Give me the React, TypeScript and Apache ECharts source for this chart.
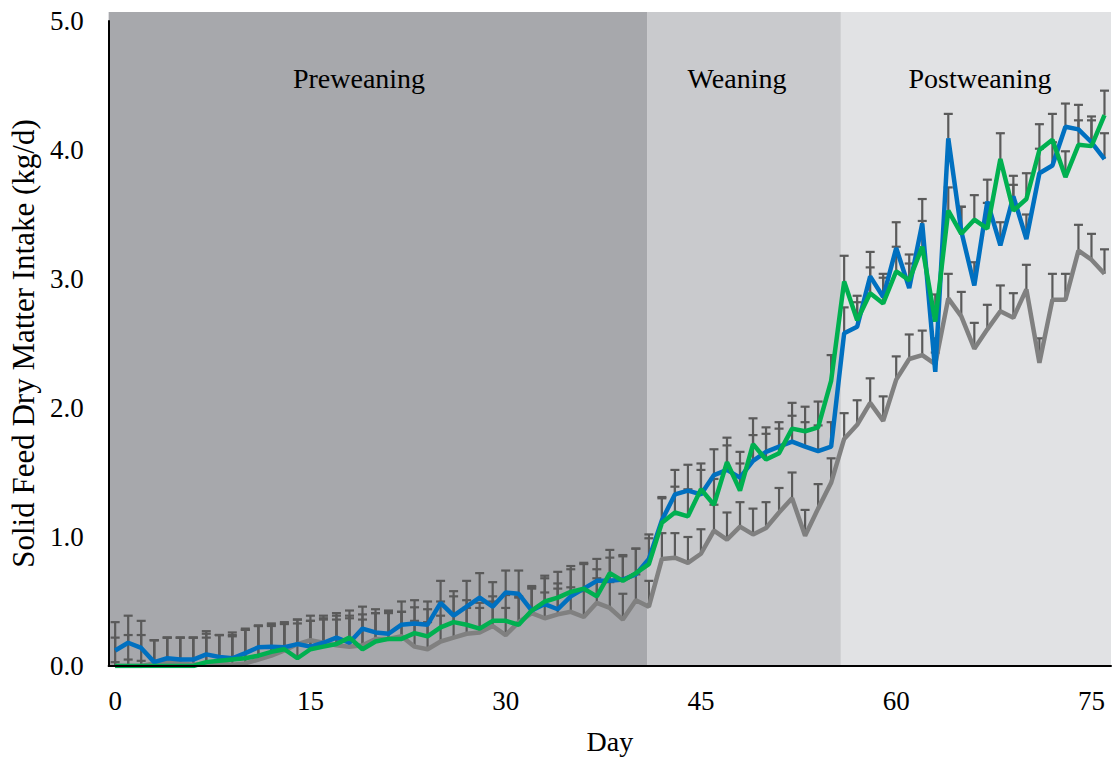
import React, { useEffect, useRef } from "react";
import * as echarts from "echarts";

// Day categories 0..76
const days: string[] = Array.from({ length: 77 }, (_, i) => String(i));
const xTickEvery = 15;
const yTicks = [0, 1, 2, 3, 4, 5];

// Series values (kg/d)
const blue = [
  0.12, 0.18, 0.14, 0.03, 0.06, 0.05, 0.05, 0.09, 0.07, 0.06,
  0.10, 0.145, 0.15, 0.145, 0.17, 0.15, 0.18, 0.22, 0.18, 0.29,
  0.26, 0.25, 0.32, 0.33, 0.32, 0.49, 0.39, 0.46, 0.53, 0.46,
  0.57, 0.56, 0.43, 0.48, 0.44, 0.54, 0.60, 0.66, 0.66, 0.67,
  0.71, 0.83, 1.13, 1.33, 1.36, 1.33, 1.48, 1.52, 1.46, 1.59,
  1.66, 1.70, 1.74, 1.70, 1.665, 1.70, 2.58, 2.63, 3.02, 2.86,
  3.24, 2.93, 3.43, 2.28, 4.09, 3.37, 2.95, 3.60, 3.26, 3.64,
  3.31, 3.82, 3.88, 4.18, 4.16, 4.06, 3.93,
];
const green = [
  0, 0, 0, 0, 0, 0, 0, 0.03, 0.04, 0.05,
  0.06, 0.08, 0.11, 0.13, 0.06, 0.13, 0.15, 0.17, 0.22, 0.13,
  0.19, 0.21, 0.21, 0.255, 0.23, 0.30, 0.34, 0.32, 0.29, 0.35,
  0.35, 0.32, 0.43, 0.50, 0.53, 0.575, 0.60, 0.54, 0.72, 0.66,
  0.72, 0.79, 1.11, 1.19, 1.16, 1.37, 1.25, 1.58, 1.36, 1.72,
  1.60, 1.65, 1.84, 1.82, 1.85, 2.21, 2.98, 2.68, 2.89, 2.81,
  3.06, 2.99, 3.25, 2.67, 3.53, 3.35, 3.46, 3.39, 3.93, 3.53,
  3.62, 4.00, 4.08, 3.79, 4.04, 4.03, 4.27,
];
const gray = [
  0, 0, 0, 0.02, 0.03, 0.02, 0.01, 0.02, 0.02, 0.01,
  0.02, 0.05, 0.08, 0.12, 0.17, 0.20, 0.18, 0.16, 0.15, 0.16,
  0.21, 0.21, 0.23, 0.15, 0.13, 0.19, 0.22, 0.25, 0.26, 0.31,
  0.24, 0.34, 0.41, 0.37, 0.40, 0.42, 0.38, 0.49, 0.45, 0.36,
  0.51, 0.46, 0.83, 0.84, 0.80, 0.87, 1.05, 0.98, 1.08, 1.02,
  1.07, 1.19, 1.30, 1.01, 1.22, 1.42, 1.76, 1.87, 2.04, 1.90,
  2.22, 2.38, 2.41, 2.34, 2.85, 2.71, 2.46, 2.61, 2.75, 2.70,
  2.92, 2.35, 2.84, 2.84, 3.22, 3.15, 3.04,
];

// Upper error bar lengths
const blueErr = [
  0.22, 0.21, 0.21, 0.17, 0.16, 0.17, 0.17, 0.18, 0.17, 0.18,
  0.19, 0.17, 0.18, 0.18, 0.19, 0.20, 0.19, 0.19, 0.21, 0.17,
  0.18, 0.18, 0.18, 0.18, 0.18, 0.17, 0.19, 0.20, 0.19, 0.19,
  0.17, 0.18, 0.18, 0.20, 0.20, 0.21, 0.20, 0.17, 0.18, 0.18,
  0.20, 0.19, 0.18, 0.19, 0.20, 0.19, 0.20, 0.19, 0.20, 0.20,
  0.19, 0.19, 0.20, 0.19, 0.20, 0.19, 0.20, 0.19, 0.19, 0.18,
  0.20, 0.19, 0.19, 0.15, 0.19, 0.19, 0.18, 0.17, 0.18, 0.16,
  0.19, 0.19, 0.18, 0.18, 0.19, 0.20, 0.20,
];
const greenErr = [
  0.22, 0.24, 0.24, 0.20, 0.22, 0.22, 0.22, 0.22, 0.20, 0.21,
  0.22, 0.23, 0.20, 0.20, 0.27, 0.22, 0.21, 0.22, 0.21, 0.27,
  0.22, 0.20, 0.21, 0.20, 0.21, 0.20, 0.20, 0.19, 0.20, 0.19,
  0.20, 0.21, 0.19, 0.20, 0.20, 0.20, 0.19, 0.21, 0.18, 0.20,
  0.19, 0.20, 0.19, 0.20, 0.21, 0.20, 0.20, 0.19, 0.21, 0.20,
  0.20, 0.19, 0.20, 0.19, 0.20, 0.20, 0.20, 0.19, 0.20, 0.20,
  0.19, 0.20, 0.20, 0.21, 0.18, 0.21, 0.19, 0.20, 0.20, 0.20,
  0.20, 0.20, 0.20, 0.20, 0.19, 0.20, 0.19,
];
const grayErr = [
  0.03, 0.05, 0.04, 0.18, 0.19, 0.20, 0.21, 0.20, 0.22, 0.22,
  0.26, 0.26, 0.24, 0.22, 0.19, 0.19, 0.21, 0.20, 0.22, 0.20,
  0.20, 0.21, 0.19, 0.20, 0.21, 0.20, 0.19, 0.20, 0.19, 0.19,
  0.21, 0.20, 0.19, 0.20, 0.20, 0.19, 0.20, 0.19, 0.20, 0.20,
  0.20, 0.20, 0.20, 0.19, 0.20, 0.19, 0.20, 0.21, 0.19, 0.20,
  0.20, 0.19, 0.20, 0.20, 0.19, 0.19, 0.20, 0.19, 0.19, 0.19,
  0.18, 0.19, 0.19, 0.20, 0.19, 0.19, 0.20, 0.19, 0.20, 0.19,
  0.19, 0.19, 0.20, 0.20, 0.20, 0.20, 0.19,
];

// Phases (start/end day on band scale)
const phaseNames = ["Preweaning", "Weaning", "Postweaning"];
const phaseStart = [-0.5, 40.9, 55.75];
const phaseEnd = [40.9, 55.75, 76.5];
const phaseColors = ["#a7a8ac", "#c9cacd", "#e1e2e4"];

const FONT = "'Liberation Serif', 'Times New Roman', serif";

export default function App() {
  const ref = useRef<HTMLDivElement>(null);
  useEffect(() => {
    if (!ref.current) return;
    const chart = echarts.init(ref.current, undefined, { renderer: "svg" });

    const errSeries = (vals: number[], errs: number[], name: string) => ({
      type: "custom",
      name,
      xAxisIndex: 1,
      yAxisIndex: 0,
      z: 3,
      silent: true,
      encode: { x: 0, y: 1 },
      data: vals.map((v, i) => [i, v, errs[i]]),
      renderItem: (params: any, api: any) => {
        const x = api.value(0);
        const v = api.value(1);
        const e = api.value(2);
        const p = api.coord([x, v]);
        const q = api.coord([x, v + e]);
        const st = { stroke: "#5a5a5a", lineWidth: 2.2 };
        return {
          type: "group",
          children: [
            { type: "line", shape: { x1: p[0], y1: p[1], x2: q[0], y2: q[1] }, style: st },
            { type: "line", shape: { x1: q[0] - 4.5, y1: q[1], x2: q[0] + 4.5, y2: q[1] }, style: st },
          ],
        };
      },
    });

    const lineSeries = (vals: number[], color: string, name: string) => ({
      type: "line",
      name,
      xAxisIndex: 0,
      yAxisIndex: 0,
      z: 5,
      data: vals,
      symbol: "none",
      lineStyle: { color, width: 4.5 },
      silent: true,
    });

    const phaseLabel = (i: number, x: number) => ({
      type: "text",
      x,
      y: 78,
      z: 20,
      style: {
        text: phaseNames[i],
        font: `28px ${FONT}`,
        fill: "#000",
        textAlign: "center",
        textVerticalAlign: "middle",
      },
    });

    chart.setOption({
      animation: false,
      grid: { left: 108, right: 3, top: 21, bottom: 93, containLabel: false },
      xAxis: [
        {
          type: "category",
          data: days,
          boundaryGap: true,
          axisLine: { show: true, onZero: false, lineStyle: { color: "#000", width: 2 } },
          axisTick: { show: false },
          axisLabel: {
            interval: (i: number) => i % xTickEvery === 0,
            fontFamily: FONT,
            fontSize: 27,
            color: "#000",
            margin: 21,
          },
          name: "Day",
          nameLocation: "middle",
          nameGap: 61,
          nameTextStyle: { fontFamily: FONT, fontSize: 28, color: "#000" },
          splitLine: { show: false },
          z: 10,
        },
        {
          type: "value",
          min: -0.5,
          max: 76.5,
          show: false,
        },
      ],
      yAxis: {
        type: "value",
        min: 0,
        max: 5,
        interval: 1,
        axisLine: { show: true, onZero: false, lineStyle: { color: "#000", width: 2 } },
        axisTick: { show: false },
        splitLine: { show: false },
        axisLabel: {
          formatter: (v: number) => (yTicks.includes(v) ? v.toFixed(1) : ""),
          fontFamily: FONT,
          fontSize: 27,
          color: "#000",
          margin: 25,
        },
        name: "Solid Feed Dry Matter Intake (kg/d)",
        nameLocation: "middle",
        nameGap: 69,
        nameRotate: 90,
        nameTextStyle: { fontFamily: FONT, fontSize: 31, color: "#000" },
        z: 10,
      },
      graphic: [phaseLabel(0, 359), phaseLabel(1, 737), phaseLabel(2, 980)],
      series: [
        {
          type: "custom",
          name: "phases",
          xAxisIndex: 1,
          yAxisIndex: 0,
          z: 1,
          silent: true,
          encode: { x: 0 },
          data: phaseStart.map((s, i) => [s, phaseEnd[i], i]),
          renderItem: (params: any, api: any) => {
            const s = api.value(0);
            const e = api.value(1);
            const idx = api.value(2);
            const p0 = api.coord([s, 0]);
            const p1 = api.coord([e, 0]);
            const cs = params.coordSys;
            return {
              type: "rect",
              shape: { x: p0[0], y: cs.y - 9, width: p1[0] - p0[0], height: cs.height + 9 },
              style: { fill: phaseColors[idx] },
            };
          },
        },
        errSeries(gray, grayErr, "grayErr"),
        errSeries(blue, blueErr, "blueErr"),
        errSeries(green, greenErr, "greenErr"),
        lineSeries(gray, "#808080", "gray"),
        lineSeries(blue, "#0070c0", "blue"),
        lineSeries(green, "#00b050", "green"),
      ],
    });
    return () => chart.dispose();
  }, []);
  return (
    <div
      ref={ref}
      style={{ position: "absolute", left: 0, top: 0, width: 1114, height: 760, background: "#fff" }}
    />
  );
}
